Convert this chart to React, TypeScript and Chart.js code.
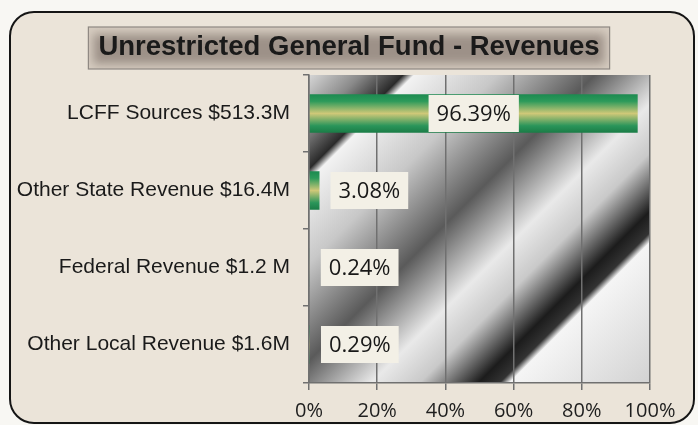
import React, { useEffect, useRef } from "react";
import { Chart, registerables } from "chart.js";

Chart.register(...registerables);

const titleText = "Unrestricted General Fund - Revenues";
const categories = [
  "LCFF Sources $513.3M",
  "Other State Revenue $16.4M",
  "Federal Revenue $1.2 M",
  "Other Local Revenue $1.6M",
];
const shares = [96.39, 3.08, 0.24, 0.29];
const axisMin = 0;
const axisMax = 100;
const axisStep = 20;

const TITLE_FONT = "bold 27.5px 'Liberation Sans', Arial, sans-serif";

const backdropPlugin = {
  id: "backdrop",
  beforeDraw(chart: any) {
    const { ctx, width, height, chartArea } = chart;
    ctx.save();
    ctx.fillStyle = "#f8f7f3";
    ctx.fillRect(0, 0, width, height);
    ctx.beginPath();
    ctx.roundRect(10, 12, width - 14, height - 14, 24);
    ctx.fillStyle = "#ebe4d9";
    ctx.fill();
    ctx.lineWidth = 2;
    ctx.strokeStyle = "#151515";
    ctx.stroke();

    ctx.font = TITLE_FONT;
    const tw = ctx.measureText(titleText).width;
    const midX = width / 2;
    const bx = midX - tw / 2 - 10;
    const bw = tw + 20;
    const by = 27;
    const bh = 42;
    ctx.fillStyle = "#d6ccc0";
    ctx.fillRect(bx, by, bw, bh);
    ctx.save();
    ctx.beginPath();
    ctx.rect(bx, by, bw, bh);
    ctx.clip();
    ctx.filter = "blur(5px)";
    ctx.fillStyle = "#9d9188";
    ctx.fillRect(bx + 5, by + 7, bw - 10, bh - 12);
    ctx.restore();
    ctx.lineWidth = 1.2;
    ctx.strokeStyle = "#8e8882";
    ctx.strokeRect(bx, by, bw, bh);

    if (chartArea && isFinite(chartArea.left) && isFinite(chartArea.bottom)) {
      const { left, top, right, bottom } = chartArea;
      const span = (right - left + bottom - top) / 2;
      const g = ctx.createLinearGradient(left, top, left + span, top + span);
      g.addColorStop(0, "#d6d6d6");
      g.addColorStop(0.08, "#8a8a8a");
      g.addColorStop(0.145, "#2a2a2a");
      g.addColorStop(0.162, "#f2f2f2");
      g.addColorStop(0.29, "#c8c8c8");
      g.addColorStop(0.44, "#5a5a5a");
      g.addColorStop(0.57, "#e9e9e9");
      g.addColorStop(0.645, "#c9c9c9");
      g.addColorStop(0.735, "#1c1c1c");
      g.addColorStop(0.768, "#333333");
      g.addColorStop(0.783, "#f5f5f5");
      g.addColorStop(1, "#d2d2d2");
      ctx.fillStyle = g;
      ctx.fillRect(left, top, right - left, bottom - top);
    }
    ctx.restore();
  },
};

const valueLabelPlugin = {
  id: "valueLabels",
  afterDatasetsDraw(chart: any) {
    const { ctx } = chart;
    const meta = chart.getDatasetMeta(0);
    ctx.save();
    ctx.font = "22px 'Open Sans', sans-serif";
    ctx.textBaseline = "middle";
    ctx.textAlign = "center";
    meta.data.forEach((el: any, i: number) => {
      const text = shares[i].toFixed(2) + "%";
      const tw = ctx.measureText(text).width;
      const bw = tw + 16;
      const bh = 37;
      const len = el.x - el.base;
      let cx: number;
      if (len > bw + 20) {
        cx = (el.x + el.base) / 2;
      } else {
        cx = el.x + 11 + bw / 2;
      }
      ctx.fillStyle = "#f3f0e6";
      ctx.fillRect(cx - bw / 2, el.y - bh / 2, bw, bh);
      ctx.fillStyle = "#181818";
      ctx.fillText(text, cx, el.y + 1);
    });
    ctx.restore();
  },
};

const barFill = (c: any) => {
  const ch = c.chart;
  const ys = ch && ch.scales && ch.scales.y;
  if (!ys || typeof c.dataIndex !== "number") return "#2a9858";
  const yc = ys.getPixelForValue(c.dataIndex);
  const half = (ys.height / categories.length) * 0.25;
  if (!isFinite(yc) || !isFinite(half) || half <= 0) return "#2a9858";
  const g = ch.ctx.createLinearGradient(0, yc - half, 0, yc + half);
  g.addColorStop(0, "#1c8a50");
  g.addColorStop(0.18, "#2c9a5a");
  g.addColorStop(0.5, "#cfc878");
  g.addColorStop(0.82, "#2a955a");
  g.addColorStop(1, "#1a7c46");
  return g;
};

export default function App() {
  const canvasRef = useRef<HTMLCanvasElement | null>(null);

  useEffect(() => {
    document.body.style.margin = "0";
    const canvas = canvasRef.current;
    if (!canvas) return;
    const chart = new Chart(canvas, {
      type: "bar",
      data: {
        labels: categories,
        datasets: [
          {
            data: shares,
            categoryPercentage: 1,
            barPercentage: 0.5,
            borderWidth: 0,
            backgroundColor: barFill,
          },
        ],
      },
      options: {
        indexAxis: "y",
        animation: false,
        responsive: false,
        layout: { padding: 0 },
        plugins: {
          legend: { display: false },
          tooltip: { enabled: false },
          title: {
            display: true,
            text: titleText,
            color: "#1a1a1a",
            font: { family: "'Liberation Sans', Arial, sans-serif", size: 27.5, weight: "bold" },
            padding: { top: 31, bottom: 11 },
          },
        },
        scales: {
          x: {
            min: axisMin,
            max: axisMax,
            ticks: {
              stepSize: axisStep,
              callback: (v: any) => v + "%",
              color: "#1e1e1e",
              font: { family: "'Open Sans', sans-serif", size: 20 },
              padding: 9,
              maxRotation: 0,
            },
            grid: { color: "#707070", lineWidth: 1.5, tickLength: 7 },
            border: { color: "#707070", width: 1.5 },
            afterFit: (s: any) => {
              s.height = 42;
            },
          },
          y: {
            ticks: {
              color: "#1a1a1a",
              font: { family: "'Liberation Sans', Arial, sans-serif", size: 21 },
              padding: 13,
            },
            grid: { offset: true, drawOnChartArea: false, color: "#707070", lineWidth: 1.5, tickLength: 6 },
            border: { color: "#707070", width: 1.5 },
            afterFit: (s: any) => {
              s.width = 309;
            },
          },
          yRight: {
            type: "linear",
            axis: "y",
            position: "right",
            display: true,
            ticks: { display: false },
            grid: { display: false, drawTicks: false },
            border: { display: false },
            afterFit: (s: any) => {
              s.width = 48;
            },
          },
        },
      },
      plugins: [backdropPlugin, valueLabelPlugin],
    } as any);
    return () => chart.destroy();
  }, []);

  return (
    <div style={{ width: 698, height: 425 }}>
      <canvas ref={canvasRef} width={698} height={425} />
    </div>
  );
}
